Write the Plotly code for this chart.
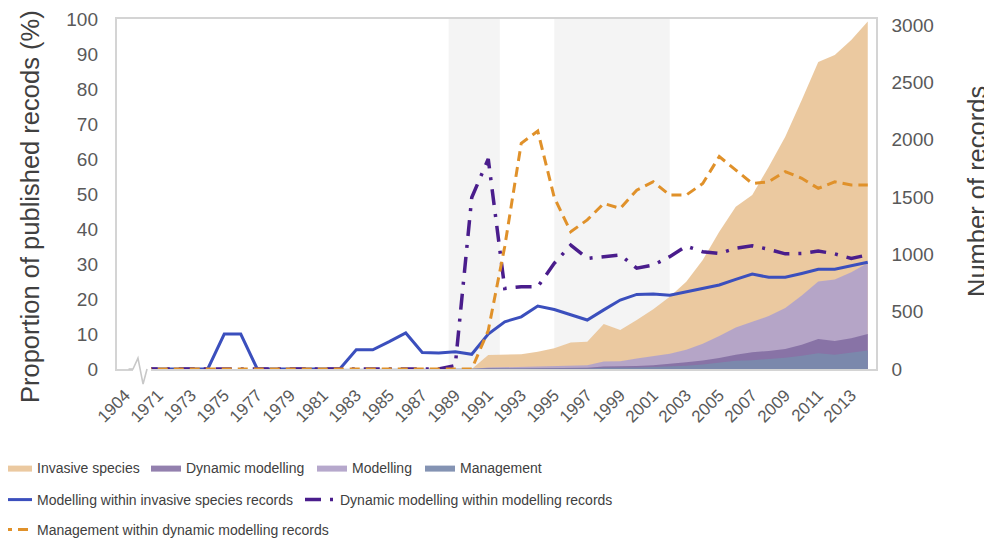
import plotly.graph_objects as go

# ---------------- data ----------------
year_labels = ["1904"] + [str(y) for y in range(1970, 2015)]   # axis categories (1904 shown before the axis break)
series_years = list(range(1970, 2015))

# Number of records (right axis)
invasive_species = [0]*20 + [0, 122, 122, 128, 151, 180, 230, 238, 392, 340, 427, 521, 630, 761, 951,
                             1197, 1415, 1517, 1764, 2026, 2346, 2677, 2738, 2869, 3030]
modelling = [0]*21 + [12, 16, 19, 27, 31, 35, 33, 66, 67, 91, 111, 133, 168, 221, 287, 362, 411, 462,
                      531, 640, 763, 780, 843, 924]
dynamic_modelling = [0]*21 + [7, 4, 4, 6, 9, 12, 10, 21, 22, 26, 33, 43, 59, 74, 95, 125, 145, 158,
                              175, 211, 262, 245, 268, 305]
management = [0]*21 + [1, 1, 3, 4, 4, 5, 4, 10, 10, 13, 18, 21, 29, 39, 58, 71, 77, 85, 99, 115, 137,
                       125, 141, 162]

# Proportions (left axis, %)
pct_modelling_in_invasive = [0, 0, 0, 0, 0, 10, 10, 0, 0, 0, 0, 0, 0, 5.5, 5.5, 7.8, 10.3, 4.7, 4.6, 4.9,
                             4.2, 10, 13.5, 14.9, 18, 17, 15.4, 14, 16.9, 19.7, 21.3, 21.4, 21.1, 22.1,
                             23.2, 24, 25.6, 27.1, 26.2, 26.2, 27.3, 28.5, 28.5, 29.4, 30.5]
pct_dynamic_in_modelling = [0]*19 + [1, 49, 60, 23, 23.5, 23.5, 30.2, 35.4, 31.6, 32.1, 32.6, 28.8, 29.7,
                                     32.1, 35.1, 33.5, 33, 34.5, 35.2, 34.2, 32.9, 33, 33.7, 32.9, 31.6, 32.6]
pct_management_in_dynamic = [0]*21 + [11, 35, 64.5, 68, 49, 39.2, 42.6, 47.3, 45.9, 51.1, 53.5, 49.7,
                                      49.7, 53, 60.7, 56.9, 53, 53.5, 56.4, 54.5, 51.6, 53.5, 52.6, 52.6]

# highlighted periods (years)
band_start = [1988.6, 1995.0]
band_end = [1991.7, 2002.0]

left_ticks = list(range(0, 101, 10))
right_ticks = list(range(0, 3001, 500))

# ---------------- helpers ----------------
positions = list(range(len(year_labels)))
def pos(year):
    return year_labels.index("1970") + (year - 1970)
xs = [pos(y) for y in series_years]

FONT = "Liberation Sans, Arial, sans-serif"
TICKC = "#595959"
TEXTC = "#404040"
AXC = "#d4d4d4"

# page geometry (the page body adds an 8px offset)
PL, PT, PW, PH = 117, 19, 759, 350   # plot area in page pixels

fig = go.Figure()

area_specs = [
    ("Invasive species", invasive_species, "rgba(233,196,152,0.92)", "legend"),
    ("Modelling", modelling, "rgba(178,163,201,0.95)", "legend3"),
    ("Dynamic modelling", dynamic_modelling, "rgba(128,106,160,0.85)", "legend2"),
    ("Management", management, "rgba(122,138,172,0.92)", "legend4"),
]
for name, vals, col, leg in area_specs:
    fig.add_trace(go.Scatter(
        x=xs, y=vals, name=name, yaxis="y", mode="lines",
        line=dict(width=0, color=col), fill="tozeroy", fillcolor=col,
        legend=leg, hoverinfo="skip"))

line_specs = [
    ("Modelling within invasive species records", pct_modelling_in_invasive, "#3b4fbd", "solid", 3, "legend5"),
    ("Dynamic modelling within modelling records", pct_dynamic_in_modelling, "#4a1d8c", "16px,9px,3px,9px", 3.5, "legend6"),
    ("Management within dynamic modelling records", pct_management_in_dynamic, "#e0912a", "10px,6px", 3, "legend7"),
]
for name, vals, col, dash, w, leg in line_specs:
    fig.add_trace(go.Scatter(
        x=xs, y=vals, name=name, yaxis="y2", mode="lines",
        line=dict(width=w, color=col, dash=dash), legend=leg, cliponaxis=False))

# grey period bands
shapes = []
for s, e in zip(band_start, band_end):
    shapes.append(dict(type="rect", xref="x", yref="paper", x0=pos(s), x1=pos(e), y0=0, y1=1,
                       fillcolor="#f4f4f4", line=dict(width=0), layer="below"))
# axis break between 1904 and 1970
shapes.append(dict(type="rect", xref="x", yref="paper", x0=0.47, x1=1.56, y0=-0.013, y1=0.013,
                   fillcolor="white", line=dict(width=0), layer="above"))
shapes.append(dict(type="path", xref="x", yref="paper",
                   path="M 0.2,0 L 0.47,0 L 0.77,0.031 L 1.08,-0.043 L 1.32,0",
                   line=dict(color="#c8c8c8", width=1.6), layer="above"))

# axis titles
annotations = [
    dict(text="Proportion of published recods (%)", xref="paper", yref="paper",
         x=(30 - PL) / PW, y=(PT + PH - 207) / PH, textangle=-90, showarrow=False,
         font=dict(size=25.5, color=TEXTC, family=FONT), xanchor="center", yanchor="middle"),
    dict(text="Number of records", xref="paper", yref="paper",
         x=(977 - PL) / PW, y=(PT + PH - 192) / PH, textangle=-90, showarrow=False,
         font=dict(size=25.5, color=TEXTC, family=FONT), xanchor="center", yanchor="middle"),
]

def legend_at(swatch_px, py):
    lx = swatch_px - 6
    return dict(x=(lx - PL) / PW, y=(PT + PH - py) / PH, xanchor="left", yanchor="middle",
                orientation="h", bgcolor="rgba(0,0,0,0)", borderwidth=0,
                font=dict(size=14, color=TEXTC, family=FONT), itemwidth=30)

W, H = 984, 535
fig.update_layout(
    width=W, height=H,
    margin=dict(l=PL - 8, r=W - (PL - 8 + PW), t=PT - 8, b=H - (PT - 8 + PH), autoexpand=False),
    paper_bgcolor="white", plot_bgcolor="white",
    font=dict(family=FONT, color=TICKC),
    showlegend=True,
    xaxis=dict(range=[-0.5, len(year_labels) - 0.5], tickmode="array",
               tickvals=positions[0::2], ticktext=year_labels[0::2], tickangle=-45,
               tickfont=dict(size=17, color=TICKC), showgrid=False, zeroline=False,
               showline=True, linecolor=AXC, linewidth=1.5, mirror=True, ticks="",
               ticklabelstandoff=8),
    yaxis=dict(range=[0, 3052], tickvals=right_ticks, tickfont=dict(size=19, color=TICKC),
               side="right", showgrid=False, zeroline=False, showline=True, linecolor=AXC,
               linewidth=1.5, mirror=True, ticks="", ticklabelstandoff=10),
    yaxis2=dict(range=[0, 100], tickvals=left_ticks, tickfont=dict(size=19, color=TICKC),
                overlaying="y", side="left", showgrid=False, zeroline=False, showline=False,
                ticks="", ticklabelstandoff=18),
    shapes=shapes,
    annotations=annotations,
    legend=legend_at(3, 468),
    legend2=legend_at(152, 468),
    legend3=legend_at(318, 468),
    legend4=legend_at(426, 468),
    legend5=legend_at(3, 500),
    legend6=legend_at(306, 500),
    legend7=legend_at(3, 530),
)

fig.write_html("out.html")
